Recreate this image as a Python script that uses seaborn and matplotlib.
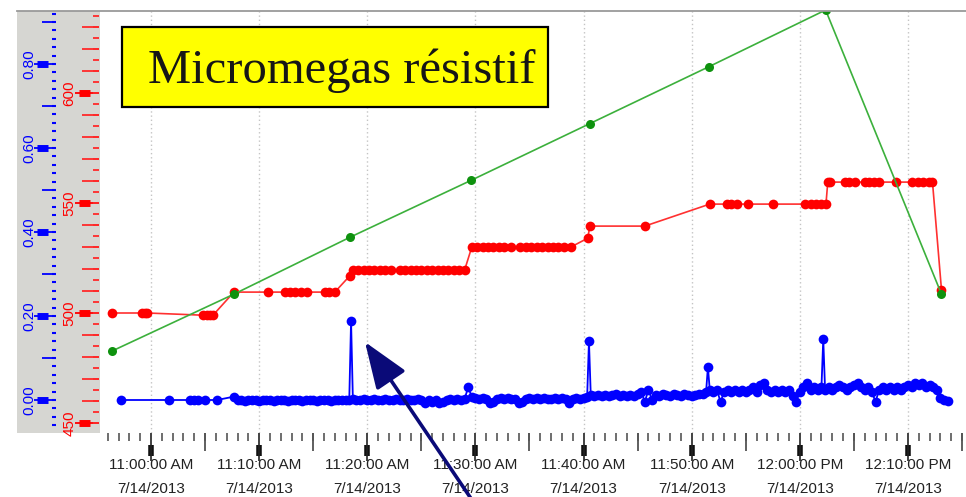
import numpy as np
import pandas as pd
import matplotlib
matplotlib.use("Agg")
import matplotlib.pyplot as plt
import matplotlib.dates as mdates
import matplotlib.ticker as mticker
from matplotlib.patches import Rectangle
from matplotlib.lines import Line2D
import seaborn as sns

plt.rcParams['font.family'] = ['Liberation Sans', 'DejaVu Sans']

DAY = "2013-07-14 "

# ---------------- data ----------------
green_times = ["10:56:24", "11:07:40", "11:18:23", "11:29:34", "11:40:34",
               "11:51:34", "12:02:23", "12:13:06"]
green_values = [1, 2, 3, 4, 5, 6, 7, 2]

red_times = [
    "10:56:24", "10:59:10", "10:59:25", "10:59:40",
    "11:04:48", "11:05:10", "11:05:25", "11:05:44",
    "11:07:40", "11:10:49",
    "11:12:23", "11:12:50", "11:13:20", "11:13:50", "11:14:25",
    "11:16:05", "11:16:30", "11:17:00",
    "11:18:24",
    "11:18:40", "11:19:10", "11:19:40", "11:20:10", "11:20:40", "11:21:10", "11:21:40", "11:22:10",
    "11:23:00", "11:23:30", "11:24:00", "11:24:30", "11:25:00", "11:25:30", "11:26:00",
    "11:26:30", "11:27:00", "11:27:30", "11:28:00", "11:28:30", "11:29:00",
    "11:29:40", "11:30:10", "11:30:40", "11:31:10", "11:31:40", "11:32:10", "11:32:40", "11:33:20",
    "11:34:10", "11:34:40", "11:35:10", "11:35:40", "11:36:10", "11:36:40", "11:37:10",
    "11:37:40", "11:38:10", "11:38:50",
    "11:40:23", "11:40:35", "11:45:40",
    "11:51:40", "11:53:14", "11:53:40", "11:54:09", "11:55:10", "11:57:29",
    "12:00:26", "12:01:00", "12:01:30", "12:02:00", "12:02:25",
    "12:02:35", "12:02:50", "12:04:08", "12:04:35", "12:05:04", "12:06:00", "12:06:25",
    "12:06:50", "12:07:22", "12:08:56", "12:10:25", "12:10:55", "12:11:25", "12:11:55", "12:12:16",
    "12:13:06",
]
red_values = [
    500, 500, 500, 500,
    499, 499, 499, 499,
    509.5, 509.5,
    509.5, 509.5, 509.5, 509.5, 509.5,
    509.5, 509.5, 509.5,
    517,
    519.5, 519.5, 519.5, 519.5, 519.5, 519.5, 519.5, 519.5,
    519.5, 519.5, 519.5, 519.5, 519.5, 519.5, 519.5,
    519.5, 519.5, 519.5, 519.5, 519.5, 519.5,
    530, 530, 530, 530, 530, 530, 530, 530,
    530, 530, 530, 530, 530, 530, 530,
    530, 530, 530,
    534, 539.5, 539.5,
    549.5, 549.5, 549.5, 549.5, 549.5, 549.5,
    549.5, 549.5, 549.5, 549.5, 549.5,
    559.5, 559.5, 559.5, 559.5, 559.5, 559.5, 559.5,
    559.5, 559.5, 559.5, 559.5, 559.5, 559.5, 559.5, 559.5,
    510.5,
]

blue_early_times = ["10:57:14", "11:01:40", "11:03:36", "11:04:00", "11:04:20",
                    "11:04:59", "11:06:06"]
blue_early_values = [0.0, 0.0, 0.0, 0.0, 0.0, 0.0, 0.0]

blue_band_start = "11:07:40"
blue_band_step = "20s"
blue_band_values = [
    0.008, 0.0, 0.0, -0.003, 0.0, 0.0, 0.0, -0.003, 0.0, 0.0,
    0.0, -0.003, 0.0, 0.0, 0.0, -0.003, 0.0, 0.0, 0.0, -0.003,
    0.0, 0.0, 0.0, -0.003, 0.0, 0.0, 0.0, -0.003, 0.0, 0.0,
    0.0, 0.0, 0.0, 0.003, 0.0, 0.0, 0.003, 0.0, 0.0, 0.003,
    0.0, 0.0, 0.003, 0.0, 0.0, 0.003, 0.0, 0.0, 0.003, 0.0,
    0.0, 0.003, 0.0, -0.008, 0.0, -0.005, 0.0, -0.008, -0.005, 0.0,
    0.003, 0.0, 0.003, 0.0, 0.003, 0.03, 0.008, 0.005, 0.003, 0.005,
    0.003, -0.008, -0.005, 0.003, 0.005, 0.003, 0.005, 0.003, 0.003, -0.008,
    -0.005, 0.003, 0.005, 0.003, 0.005, 0.003, 0.005, 0.003, 0.003, 0.005,
    0.003, 0.005, 0.003, -0.008, 0.003, 0.005, 0.003, 0.005, 0.008, 0.012,
    0.01, 0.012, 0.01, 0.012, 0.01, 0.012, 0.015, 0.01, 0.012, 0.01,
    0.012, 0.01, 0.015, 0.02, -0.005, 0.025, 0.0, 0.012, 0.01, 0.015,
    0.012, 0.01, 0.015, 0.012, 0.01, 0.015, 0.012, 0.01, 0.012, 0.015,
    0.015, 0.02, 0.025, 0.02, 0.025, -0.005, 0.02, 0.025, 0.02, 0.025,
    0.02, 0.025, 0.02, 0.025, 0.03, 0.02, 0.035, 0.04, 0.025, 0.02,
    0.025, 0.02, 0.025, 0.02, 0.025, 0.01, -0.005, 0.02, 0.03, 0.04,
    0.025, 0.03, 0.025, 0.03, 0.025, 0.03, 0.025, 0.03, 0.035, 0.03,
    0.025, 0.03, 0.035, 0.04, 0.03, 0.025, 0.03, 0.02, -0.005, 0.025,
    0.03, 0.025, 0.03, 0.025, 0.03, 0.025, 0.03, 0.035, 0.03, 0.04,
    0.035, 0.04, 0.03, 0.035, 0.03, 0.025, 0.005, 0.0, -0.003,
]
blue_spike_times = ["11:18:30", "11:40:30", "11:51:30", "12:02:10"]
blue_spike_values = [0.188, 0.14, 0.079, 0.145]

blue_ticks = [0.0, 0.2, 0.4, 0.6, 0.8]
blue_tick_labels = ["0.00", "0.20", "0.40", "0.60", "0.80"]
red_ticks = [450, 500, 550, 600]
red_tick_labels = ["450", "500", "550", "600"]

xtick_times = ["11:00", "11:10", "11:20", "11:30", "11:40", "11:50", "12:00", "12:10"]
xtick_labels = ["11:00:00 AM\n7/14/2013", "11:10:00 AM\n7/14/2013",
                "11:20:00 AM\n7/14/2013", "11:30:00 AM\n7/14/2013",
                "11:40:00 AM\n7/14/2013", "11:50:00 AM\n7/14/2013",
                "12:00:00 PM\n7/14/2013", "12:10:00 PM\n7/14/2013"]
x5_times = ["10:55", "11:05", "11:15", "11:25", "11:35", "11:45", "11:55", "12:05", "12:15"]
title_text = "Micromegas résistif"


def ts(lst):
    return pd.to_datetime([DAY + t for t in lst])


green_df = pd.DataFrame({"time": ts(green_times), "value": green_values})
red_df = pd.DataFrame({"time": ts(red_times), "value": red_values})
band_times = pd.date_range(DAY + blue_band_start, periods=len(blue_band_values), freq=blue_band_step)
blue_df = pd.concat([
    pd.DataFrame({"time": ts(blue_early_times), "value": blue_early_values}),
    pd.DataFrame({"time": band_times, "value": blue_band_values}),
    pd.DataFrame({"time": ts(blue_spike_times), "value": blue_spike_values}),
]).sort_values("time").reset_index(drop=True)

# ---------------- layout ----------------
W, H = 966, 497
fig = plt.figure(figsize=(W / 100, H / 100), dpi=100)


def fx(px):
    return px / W


def fy(py):
    return 1 - py / H


L, R, T, B = 100, 966, 11, 433
ax = fig.add_axes([fx(L), fy(B), fx(R) - fx(L), fy(T) - fy(B)])

# gray scale band + top border
fig.add_artist(Rectangle((fx(17), fy(433)), fx(100) - fx(17), fy(11) - fy(433),
                         transform=fig.transFigure, fc="#d6d6d2", ec="none", zorder=-1))
fig.add_artist(Line2D([fx(17), fx(966)], [fy(10.5), fy(10.5)], transform=fig.transFigure,
                      color="#9a9a9a", lw=1.3, zorder=20))

xmin = pd.Timestamp(DAY + "10:55:17")
xmax = pd.Timestamp(DAY + "12:15:22")
MS = 7

# blue (main axes)
sns.lineplot(data=blue_df, x="time", y="value", ax=ax, color="#0000ff", marker="o",
             markersize=MS, markeredgewidth=0, markerfacecolor="#0000ff",
             markeredgecolor="#0000ff", linewidth=1.3, estimator=None, sort=True, legend=False)
ax.set_xlim(xmin, xmax)
ax.set_ylim(-33 / 420, 389 / 420)

ax_r = ax.twinx()
sns.lineplot(data=red_df, x="time", y="value", ax=ax_r, color="#ff3030", marker="o",
             markersize=MS, markeredgewidth=0, markerfacecolor="#ff0000",
             markeredgecolor="#ff0000", linewidth=1.2, estimator=None, sort=True, legend=False)
ax_r.set_ylim(450 - 10 / 2.2, 450 + 412 / 2.2)

ax_g = ax.twinx()
sns.lineplot(data=green_df, x="time", y="value", ax=ax_g, color="#3cb03c", marker="o",
             markersize=6.5, markeredgewidth=0, markerfacecolor="#0e920e",
             markeredgecolor="#0e920e", linewidth=1.2, estimator=None, sort=True, legend=False)
gs = 341 / 6.0
ax_g.set_ylim(1 - 82 / gs, 1 + 340 / gs)
ax_g.set_xlim(xmin, xmax)

for a in (ax, ax_r, ax_g):
    for s in a.spines.values():
        s.set_visible(False)
    a.set_xlabel("")
    a.set_ylabel("")
    a.set_yticks([])
    a.tick_params(axis="y", left=False, right=False, labelleft=False, labelright=False)
ax_g.patch.set_visible(False)
ax_r.patch.set_visible(False)

# ---------------- x axis ----------------
xt = ts(xtick_times)
ax.set_xticks(xt, labels=xtick_labels)
ax.xaxis.set_minor_locator(mdates.MinuteLocator())
ax.tick_params(axis="x", which="major", length=20, width=1.2, color="#222222",
               labelsize=11, labelcolor="#222222", pad=-2.2)
ax.tick_params(axis="x", which="minor", length=6, width=1.2, color="#555555")
for t in ax.xaxis.get_major_ticks():
    t.label1.set_linespacing(1.95)
ax.grid(True, axis="x", which="major", color="#c4c4c4", linestyle=(0, (1, 2)), linewidth=1)
ax.set_axisbelow(True)

sx1 = ax.secondary_xaxis(0.0)
sx1.set_xticks(mdates.date2num(ts(x5_times)))
sx1.tick_params(length=13, width=1.2, color="#444444", labelbottom=False)
sx2 = ax.secondary_xaxis(-12 / 422)
sx2.set_xticks(mdates.date2num(xt))
sx2.tick_params(length=8, width=4, color="#111111", labelbottom=False)
for sa in (sx1, sx2):
    for s in sa.spines.values():
        s.set_visible(False)
    sa.set_xlim(mdates.date2num(xmin), mdates.date2num(xmax))

# ---------------- blue scale ----------------
span = R - L
sb = ax.secondary_yaxis((56 - L) / span)
sb.set_yticks(blue_ticks, labels=blue_tick_labels)
sb.yaxis.set_minor_locator(mticker.MultipleLocator(0.1))
sb.tick_params(which="major", length=16, width=1.3, color="#0000ff", labelcolor="#0000ff",
               labelsize=11, pad=-2)
sb.tick_params(which="minor", length=10, width=1.3, color="#0000ff")
for lbl in sb.get_yticklabels():
    lbl.set_rotation(90)
    lbl.set_va("center")
sb2 = ax.secondary_yaxis((48 - L) / span)
sb2.set_yticks(blue_ticks)
sb2.tick_params(length=8, width=5, color="#0000ff", labelleft=False)
sb3 = ax.secondary_yaxis((56 - L) / span)
sb3.yaxis.set_major_locator(mticker.MultipleLocator(0.02))
sb3.tick_params(length=3, width=1.5, color="#0000ff", labelleft=False)

# ---------------- red scale ----------------
sr = ax_r.secondary_yaxis((99 - L) / span)
sr.set_yticks(red_ticks, labels=red_tick_labels)
sr.yaxis.set_minor_locator(mticker.MultipleLocator(10))
sr.tick_params(which="major", length=17, width=1.3, color="#ff0000", labelcolor="#ff0000",
               labelsize=11, pad=-0.8)
sr.tick_params(which="minor", length=12, width=1.3, color="#ff2a2a")
for lbl in sr.get_yticklabels():
    lbl.set_rotation(90)
    lbl.set_va("center")
sr2 = ax_r.secondary_yaxis((90 - L) / span)
sr2.set_yticks(red_ticks)
sr2.tick_params(length=8, width=5, color="#ff0000", labelleft=False)
sr3 = ax_r.secondary_yaxis((99 - L) / span)
sr3.yaxis.set_major_locator(mticker.MultipleLocator(5))
sr3.tick_params(length=4, width=1.3, color="#ff2a2a", labelleft=False)

for sa in (sb, sb2, sb3, sr, sr2, sr3):
    for s in sa.spines.values():
        s.set_visible(False)

# ---------------- title box ----------------
fig.add_artist(Rectangle((fx(122), fy(107)), fx(548) - fx(122), fy(27) - fy(107),
                         transform=fig.transFigure, fc="#ffff00", ec="#000000", lw=1.6, zorder=30))
fig.text(fx(342), fy(71), title_text, ha="center", va="center", fontsize=35,
         family=["Liberation Serif", "DejaVu Serif"], color="#161616", zorder=31)

# ---------------- arrow ----------------
ax_g.annotate("", xy=(365, H - 342), xycoords="figure pixels",
              xytext=(472, H - 500), textcoords="figure pixels",
              arrowprops=dict(arrowstyle="-|>,head_length=28.8,head_width=10.8",
                              mutation_scale=1, color="#0a0a78", lw=2.6,
                              shrinkA=0, shrinkB=0),
              annotation_clip=False, zorder=40)

fig.savefig("out.png", dpi=100)
